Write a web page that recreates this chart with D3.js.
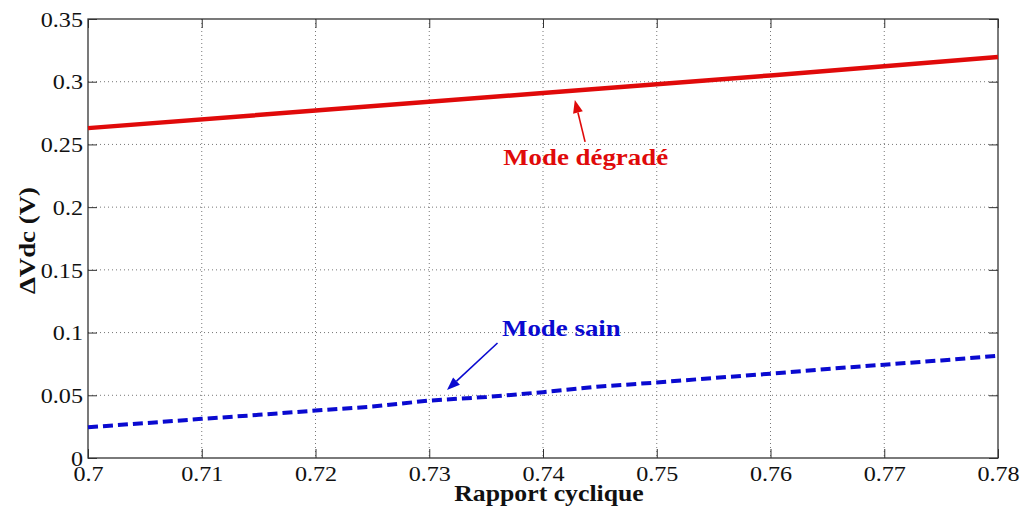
<!DOCTYPE html>
<html><head><meta charset="utf-8">
<script src="https://cdn.jsdelivr.net/npm/d3@7"></script>
<style>body{margin:0;background:#fff;} svg{display:block;}</style>
</head><body>
<svg id="c" width="1022" height="511"></svg>
<script>
const xTicks = [0.70,0.71,0.72,0.73,0.74,0.75,0.76,0.77,0.78];
const xTickLabels = ["0.7","0.71","0.72","0.73","0.74","0.75","0.76","0.77","0.78"];
const yTicks = [0,0.05,0.1,0.15,0.2,0.25,0.3,0.35];
const yTickLabels = ["0","0.05","0.1","0.15","0.2","0.25","0.3","0.35"];

const rapport = [0.700,0.705,0.710,0.715,0.720,0.725,0.730,0.735,0.740,0.745,0.750,0.755,0.760,0.765,0.770,0.775,0.780];
const modeSain = [0.0245,0.0278,0.0312,0.0344,0.0378,0.0410,0.0458,0.0486,0.0525,0.0570,0.0602,0.0638,0.0672,0.0710,0.0744,0.0778,0.0815];
const rapportDeg = [0.70,0.72,0.74,0.76,0.78];
const modeDegrade = [0.263,0.277,0.291,0.305,0.3197];

const labels = ["Mode dégradé","Mode sain"];
const labelPos = [[0.7365,0.2337],[0.7364,0.0973]];
const arrowTail = [[0.7437,0.252],[0.7360,0.0917]];
const arrowTip = [[0.7428,0.2855],[0.73156,0.0542]];

const W=1022,H=511;
const m={l:88,t:19,r:998,b:458};
const red="#e00a0a", blue="#0a0ad0";
const svg=d3.select("#c");
const x=d3.scaleLinear().domain([0.7,0.78]).range([m.l,m.r]);
const y=d3.scaleLinear().domain([0,0.35]).range([m.b,m.t]);
const serif="'Liberation Serif','Times New Roman',serif";

// grid
const g=svg.append("g");
g.selectAll("line.gx").data(xTicks.slice(1,-1)).join("line")
 .attr("x1",d=>x(d)).attr("x2",d=>x(d)).attr("y1",m.t).attr("y2",m.b)
 .attr("stroke","#777").attr("stroke-width",1).attr("stroke-dasharray","1,3");
g.selectAll("line.gy").data(yTicks.slice(1,-1)).join("line")
 .attr("y1",d=>y(d)).attr("y2",d=>y(d)).attr("x1",m.l).attr("x2",m.r)
 .attr("stroke","#777").attr("stroke-width",1).attr("stroke-dasharray","1,3");

// axes with inner ticks on all sides
const ax=svg.append("g");
const tl=9;
const axB=d3.axisBottom(x).tickValues(xTicks).tickSize(-tl).tickFormat((d,i)=>xTickLabels[i]).tickPadding(0);
const axT=d3.axisTop(x).tickValues(xTicks).tickSize(-tl).tickFormat("");
const axL=d3.axisLeft(y).tickValues(yTicks).tickSize(-tl).tickFormat((d,i)=>yTickLabels[i]).tickPadding(0);
const axR=d3.axisRight(y).tickValues(yTicks).tickSize(-tl).tickFormat("");
function style(s){s.select(".domain").remove(); s.selectAll(".tick line").attr("stroke","#333"); s.attr("font-family",serif);}
ax.append("g").attr("transform",`translate(0,${m.b})`).call(axB).call(style)
  .selectAll("text").attr("font-family",serif).attr("font-size",21).attr("fill","#111").attr("y",0).attr("dy",0)
  .attr("transform","translate(0,23) scale(1.15,1)");
ax.append("g").attr("transform",`translate(0,${m.t})`).call(axT).call(style);
ax.append("g").attr("transform",`translate(${m.l},0)`).call(axL).call(style)
  .selectAll("text").attr("font-family",serif).attr("font-size",21).attr("fill","#111").attr("x",0).attr("dy","0.34em")
  .attr("transform","translate(-5,0) scale(1.15,1)");
ax.append("g").attr("transform",`translate(${m.r},0)`).call(axR).call(style);
svg.append("rect").attr("x",m.l).attr("y",m.t).attr("width",m.r-m.l).attr("height",m.b-m.t)
 .attr("fill","none").attr("stroke","#333").attr("stroke-width",1.3);

// lines
const line=d3.line().x(d=>x(d[0])).y(d=>y(d[1]));
svg.append("path").datum(rapportDeg.map((v,i)=>[v,modeDegrade[i]])).attr("d",line)
 .attr("fill","none").attr("stroke",red).attr("stroke-width",4.5);
svg.append("path").datum(rapport.map((v,i)=>[v,modeSain[i]])).attr("d",line)
 .attr("fill","none").attr("stroke",blue).attr("stroke-width",4).attr("stroke-dasharray","10,5");

// arrows
const cols=[red,blue];
labels.forEach((t,i)=>{
  const x1=x(arrowTail[i][0]),y1=y(arrowTail[i][1]),x2=x(arrowTip[i][0]),y2=y(arrowTip[i][1]);
  const ang=Math.atan2(y2-y1,x2-x1), L=13, w=5;
  const bx=x2-L*Math.cos(ang), by=y2-L*Math.sin(ang);
  svg.append("line").attr("x1",x1).attr("y1",y1).attr("x2",bx).attr("y2",by).attr("stroke",cols[i]).attr("stroke-width",1.6);
  svg.append("path").attr("d",`M${x2},${y2}L${bx+w*Math.sin(ang)},${by-w*Math.cos(ang)}L${bx-w*Math.sin(ang)},${by+w*Math.cos(ang)}Z`).attr("fill",cols[i]);
  svg.append("text").attr("transform",`translate(${x(labelPos[i][0])},${y(labelPos[i][1])}) scale(1.12,1)`)
   .attr("font-family",serif).attr("font-weight","bold").attr("font-size",24).attr("fill",cols[i]).text(t);
});

// axis titles
svg.append("text").attr("transform",`translate(${(m.l+m.r)/2+6},501) scale(1.12,1)`).attr("text-anchor","middle")
 .attr("font-family",serif).attr("font-weight","bold").attr("font-size",23).attr("fill","#111").text("Rapport cyclique");
svg.append("text").attr("transform",`translate(35,${(m.t+m.b)/2+2}) rotate(-90) scale(1.12,1)`).attr("text-anchor","middle")
 .attr("font-family",serif).attr("font-weight","bold").attr("font-size",24).attr("fill","#111").text("ΔVdc (V)");
</script>
</body></html>
